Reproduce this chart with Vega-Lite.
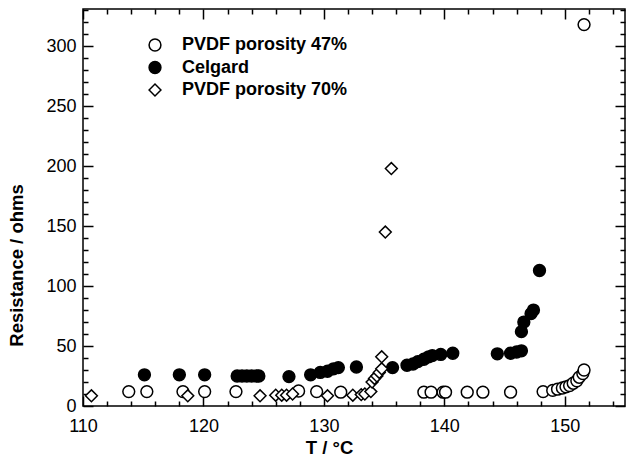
{
  "$schema": "https://vega.github.io/schema/vega-lite/v6.json",
  "width": 542,
  "height": 397,
  "autosize": {"type": "none"},
  "padding": {"left": 83, "top": 9, "right": 1, "bottom": 56},
  "config": {"view": {"stroke": "black", "strokeWidth": 1.5}, "font": "Liberation Sans",
    "legend": {"orient": "none", "legendX": 63, "legendY": 27, "title": null, "labelFontSize": 18,
      "labelFontWeight": "bold", "labelColor": "black", "labelLimit": 0, "symbolSize": 140,
      "symbolStrokeWidth": 1.5, "labelOffset": 18, "rowPadding": 4.5, "padding": 0}},
  "data": {"values": [
    {"series": "PVDF porosity 47%", "T": 113.8, "R": 12},
    {"series": "PVDF porosity 47%", "T": 115.3, "R": 12},
    {"series": "PVDF porosity 47%", "T": 118.3, "R": 12},
    {"series": "PVDF porosity 47%", "T": 120.1, "R": 12},
    {"series": "PVDF porosity 47%", "T": 122.7, "R": 12},
    {"series": "PVDF porosity 47%", "T": 127.9, "R": 12.5},
    {"series": "PVDF porosity 47%", "T": 129.4, "R": 12},
    {"series": "PVDF porosity 47%", "T": 131.4, "R": 11.5},
    {"series": "PVDF porosity 47%", "T": 138.3, "R": 11.5},
    {"series": "PVDF porosity 47%", "T": 138.9, "R": 11.5},
    {"series": "PVDF porosity 47%", "T": 139.9, "R": 11.5},
    {"series": "PVDF porosity 47%", "T": 140.1, "R": 11.5},
    {"series": "PVDF porosity 47%", "T": 141.9, "R": 11.5},
    {"series": "PVDF porosity 47%", "T": 143.2, "R": 11.5},
    {"series": "PVDF porosity 47%", "T": 145.5, "R": 11.5},
    {"series": "PVDF porosity 47%", "T": 148.2, "R": 12},
    {"series": "PVDF porosity 47%", "T": 149.0, "R": 13},
    {"series": "PVDF porosity 47%", "T": 149.4, "R": 14},
    {"series": "PVDF porosity 47%", "T": 149.8, "R": 15},
    {"series": "PVDF porosity 47%", "T": 150.1, "R": 16},
    {"series": "PVDF porosity 47%", "T": 150.4, "R": 17},
    {"series": "PVDF porosity 47%", "T": 150.7, "R": 19},
    {"series": "PVDF porosity 47%", "T": 151.0, "R": 21},
    {"series": "PVDF porosity 47%", "T": 151.2, "R": 24},
    {"series": "PVDF porosity 47%", "T": 151.5, "R": 27},
    {"series": "PVDF porosity 47%", "T": 151.6, "R": 30},
    {"series": "PVDF porosity 47%", "T": 151.6, "R": 318},
    {"series": "Celgard", "T": 115.1, "R": 26},
    {"series": "Celgard", "T": 118.0, "R": 26},
    {"series": "Celgard", "T": 120.1, "R": 26},
    {"series": "Celgard", "T": 122.8, "R": 25},
    {"series": "Celgard", "T": 123.2, "R": 25},
    {"series": "Celgard", "T": 123.6, "R": 25},
    {"series": "Celgard", "T": 124.0, "R": 25},
    {"series": "Celgard", "T": 124.4, "R": 25},
    {"series": "Celgard", "T": 124.6, "R": 25},
    {"series": "Celgard", "T": 127.1, "R": 24.5},
    {"series": "Celgard", "T": 128.9, "R": 26},
    {"series": "Celgard", "T": 129.7, "R": 28},
    {"series": "Celgard", "T": 130.3, "R": 29},
    {"series": "Celgard", "T": 130.8, "R": 31},
    {"series": "Celgard", "T": 131.2, "R": 32},
    {"series": "Celgard", "T": 132.7, "R": 32.5},
    {"series": "Celgard", "T": 135.7, "R": 32},
    {"series": "Celgard", "T": 136.9, "R": 34},
    {"series": "Celgard", "T": 137.4, "R": 35},
    {"series": "Celgard", "T": 137.8, "R": 37},
    {"series": "Celgard", "T": 138.3, "R": 39},
    {"series": "Celgard", "T": 138.7, "R": 41},
    {"series": "Celgard", "T": 139.0, "R": 42},
    {"series": "Celgard", "T": 139.7, "R": 43},
    {"series": "Celgard", "T": 140.7, "R": 44},
    {"series": "Celgard", "T": 144.4, "R": 43.5},
    {"series": "Celgard", "T": 145.5, "R": 44},
    {"series": "Celgard", "T": 146.0, "R": 45},
    {"series": "Celgard", "T": 146.4, "R": 46},
    {"series": "Celgard", "T": 146.4, "R": 62},
    {"series": "Celgard", "T": 146.6, "R": 70},
    {"series": "Celgard", "T": 147.2, "R": 77},
    {"series": "Celgard", "T": 147.4, "R": 80},
    {"series": "Celgard", "T": 147.9, "R": 113},
    {"series": "PVDF porosity 70%", "T": 110.7, "R": 8.5},
    {"series": "PVDF porosity 70%", "T": 118.7, "R": 8.5},
    {"series": "PVDF porosity 70%", "T": 124.7, "R": 8.5},
    {"series": "PVDF porosity 70%", "T": 126.0, "R": 9},
    {"series": "PVDF porosity 70%", "T": 126.5, "R": 9},
    {"series": "PVDF porosity 70%", "T": 126.9, "R": 9},
    {"series": "PVDF porosity 70%", "T": 127.4, "R": 10},
    {"series": "PVDF porosity 70%", "T": 130.3, "R": 8.5},
    {"series": "PVDF porosity 70%", "T": 132.4, "R": 9},
    {"series": "PVDF porosity 70%", "T": 133.1, "R": 9.5},
    {"series": "PVDF porosity 70%", "T": 133.4, "R": 10},
    {"series": "PVDF porosity 70%", "T": 133.9, "R": 12},
    {"series": "PVDF porosity 70%", "T": 134.0, "R": 20},
    {"series": "PVDF porosity 70%", "T": 134.2, "R": 23},
    {"series": "PVDF porosity 70%", "T": 134.4, "R": 25},
    {"series": "PVDF porosity 70%", "T": 134.6, "R": 28},
    {"series": "PVDF porosity 70%", "T": 134.8, "R": 31},
    {"series": "PVDF porosity 70%", "T": 134.8, "R": 41},
    {"series": "PVDF porosity 70%", "T": 135.1, "R": 145},
    {"series": "PVDF porosity 70%", "T": 135.6, "R": 198}
  ]},
  "layer": [
    {
      "mark": {"type": "point", "filled": true, "strokeWidth": 1.5, "size": 140, "opacity": 1},
      "encoding": {
        "x": {"field": "T", "type": "quantitative",
          "scale": {"domain": [110, 155], "nice": false, "zero": false},
          "axis": {"orient": "bottom", "ticks": false, "domain": false, "grid": false,
            "values": [110, 120, 130, 140, 150], "labelFontSize": 18, "labelPadding": 11,
            "labelColor": "black", "labelFlush": false, "labelOverlap": false,
            "title": "T / °C", "titleFontSize": 18.5, "titleFontWeight": "bold", "titleColor": "black",
            "titleX": 246, "titleY": 41, "titleAlign": "center", "titleBaseline": "middle"}},
        "y": {"field": "R", "type": "quantitative",
          "scale": {"domain": [0, 331], "nice": false, "zero": false},
          "axis": {"orient": "left", "ticks": false, "domain": false, "grid": false,
            "values": [0, 50, 100, 150, 200, 250, 300], "labelFontSize": 18, "labelPadding": 7,
            "labelColor": "black", "labelFlush": false, "labelOverlap": false,
            "title": "Resistance / ohms", "titleFontSize": 18.5, "titleFontWeight": "bold", "titleColor": "black",
            "titleX": -67, "titleY": 256, "titleAlign": "center", "titleBaseline": "middle", "titleAngle": -90}},
        "fill": {"field": "series", "type": "nominal",
          "scale": {"domain": ["PVDF porosity 47%", "Celgard", "PVDF porosity 70%"], "range": ["white", "black", "white"]}},
        "stroke": {"field": "series", "type": "nominal",
          "scale": {"domain": ["PVDF porosity 47%", "Celgard", "PVDF porosity 70%"], "range": ["black", "black", "black"]}},
        "shape": {"field": "series", "type": "nominal",
          "scale": {"domain": ["PVDF porosity 47%", "Celgard", "PVDF porosity 70%"], "range": ["circle", "circle", "diamond"]}}
      }
    },
    {
      "mark": {"type": "point", "opacity": 0},
      "encoding": {
        "x": {"field": "T", "type": "quantitative",
          "axis": {"orient": "bottom", "labels": false, "domain": false, "grid": false, "title": null,
            "values": [110, 120, 130, 140, 150], "tickSize": -10, "tickWidth": 1.5, "tickColor": "black"}},
        "y": {"field": "R", "type": "quantitative",
          "axis": {"orient": "left", "labels": false, "domain": false, "grid": false, "title": null,
            "values": [0, 50, 100, 150, 200, 250, 300], "tickSize": -10, "tickWidth": 1.5, "tickColor": "black"}}
      }
    },
    {
      "mark": {"type": "point", "opacity": 0},
      "encoding": {
        "x": {"field": "T", "type": "quantitative",
          "axis": {"orient": "bottom", "labels": false, "domain": false, "grid": false, "title": null,
            "values": [112, 114, 116, 118, 122, 124, 126, 128, 132, 134, 136, 138, 142, 144, 146, 148, 152, 154],
            "tickSize": -5, "tickWidth": 1.5, "tickColor": "black"}},
        "y": {"field": "R", "type": "quantitative",
          "axis": {"orient": "left", "labels": false, "domain": false, "grid": false, "title": null,
            "values": [10, 20, 30, 40, 60, 70, 80, 90, 110, 120, 130, 140, 160, 170, 180, 190, 210, 220, 230, 240, 260, 270, 280, 290, 310, 320, 330],
            "tickSize": -5, "tickWidth": 1.5, "tickColor": "black"}}
      }
    },
    {
      "mark": {"type": "point", "opacity": 0},
      "encoding": {
        "x": {"field": "T", "type": "quantitative",
          "axis": {"orient": "top", "labels": false, "domain": false, "grid": false, "title": null,
            "values": [110, 120, 130, 140, 150], "tickSize": -10, "tickWidth": 1.5, "tickColor": "black"}},
        "y": {"field": "R", "type": "quantitative",
          "axis": {"orient": "right", "labels": false, "domain": false, "grid": false, "title": null,
            "values": [0, 50, 100, 150, 200, 250, 300], "tickSize": -10, "tickWidth": 1.5, "tickColor": "black"}}
      }
    },
    {
      "mark": {"type": "point", "opacity": 0},
      "encoding": {
        "x": {"field": "T", "type": "quantitative",
          "axis": {"orient": "top", "labels": false, "domain": false, "grid": false, "title": null,
            "values": [112, 114, 116, 118, 122, 124, 126, 128, 132, 134, 136, 138, 142, 144, 146, 148, 152, 154],
            "tickSize": -5, "tickWidth": 1.5, "tickColor": "black"}},
        "y": {"field": "R", "type": "quantitative",
          "axis": {"orient": "right", "labels": false, "domain": false, "grid": false, "title": null,
            "values": [10, 20, 30, 40, 60, 70, 80, 90, 110, 120, 130, 140, 160, 170, 180, 190, 210, 220, 230, 240, 260, 270, 280, 290, 310, 320, 330],
            "tickSize": -5, "tickWidth": 1.5, "tickColor": "black"}}
      }
    }
  ],
  "resolve": {"axis": {"x": "independent", "y": "independent"}}
}
